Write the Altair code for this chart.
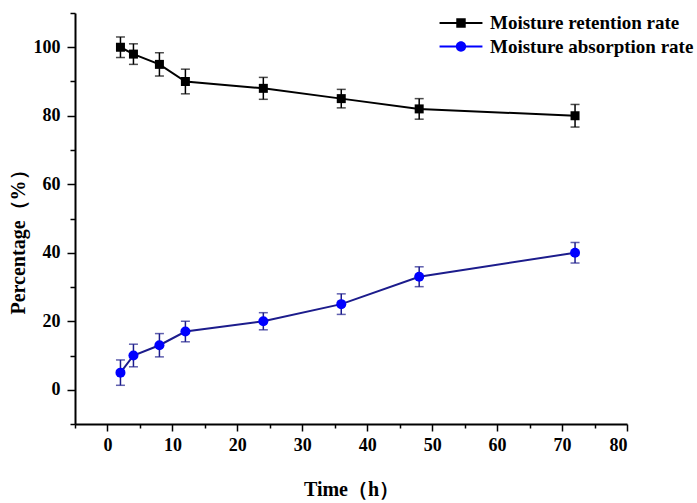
import altair as alt
import pandas as pd

# ---- data ----
time_h = [2, 4, 8, 12, 24, 36, 48, 72]
retention = [100, 98, 95, 90, 88, 85, 82, 80]
retention_err = [3.0, 3.0, 3.4, 3.6, 3.2, 2.7, 3.0, 3.3]
absorption = [5, 10, 13, 17, 20, 25, 33, 40]
absorption_err = [3.7, 3.3, 3.4, 3.0, 2.5, 3.0, 2.9, 3.0]
series_names = ["Moisture retention rate", "Moisture absorption rate"]
x_major_ticks = [0, 10, 20, 30, 40, 50, 60, 70, 80]
x_minor_ticks = [-5, 5, 15, 25, 35, 45, 55, 65, 75]
y_major_ticks = [0, 20, 40, 60, 80, 100]
y_minor_ticks = [-10, 10, 30, 50, 70, 90, 110]

rows = []
for t, v, e in zip(time_h, retention, retention_err):
    rows.append({"time": t, "value": v, "err": e, "series": series_names[0]})
for t, v, e in zip(time_h, absorption, absorption_err):
    rows.append({"time": t, "value": v, "err": e, "series": series_names[1]})
df = pd.DataFrame(rows)
df["lo"] = df["value"] - df["err"]
df["hi"] = df["value"] + df["err"]

FONT = "Liberation Serif"
BLACK = "#000000"
NAVY = "#1c1c8c"
BLUE = "#0000ff"

xs = alt.Scale(domain=[-5, 80], nice=False, zero=False)
ys = alt.Scale(domain=[-10, 110], nice=False, zero=False)

base = alt.Chart(df)


def X(field):
    return alt.X(field, scale=xs, axis=None)


def Y(field):
    return alt.Y(field, scale=ys, axis=None)


# main axes (major ticks + labels + titles)
main_axes = base.mark_point(opacity=0).encode(
    x=alt.X("time:Q", scale=xs, title="Time（h）",
            axis=alt.Axis(values=x_major_ticks, tickSize=7, titlePadding=25, labelPadding=5,
                          orient="bottom")),
    y=alt.Y("value:Q", scale=ys, title="Percentage（%）",
            axis=alt.Axis(values=y_major_ticks, tickSize=8, titlePadding=5, labelPadding=7,
                          orient="left", titleY=224)),
)
# minor ticks
minor_axes = base.mark_point(opacity=0).encode(
    x=alt.X("time:Q", scale=xs, title=None,
            axis=alt.Axis(values=x_minor_ticks, tickSize=4, labels=False, domain=False,
                          orient="bottom")),
    y=alt.Y("value:Q", scale=ys, title=None,
            axis=alt.Axis(values=y_minor_ticks, tickSize=5, labels=False, domain=False,
                          orient="left")),
)


def series_layers(name, line_color, marker_color, shape, size):
    s = base.transform_filter(alt.datum.series == name)
    line = s.mark_line(strokeWidth=2, color=line_color).encode(x=X("time:Q"), y=Y("value:Q"))
    bar = s.mark_rule(strokeWidth=1.5, color=line_color).encode(
        x=X("time:Q"), y=Y("lo:Q"), y2="hi:Q")
    cap_lo = s.mark_tick(orient="horizontal", size=9, thickness=1.5, color=line_color).encode(
        x=X("time:Q"), y=Y("lo:Q"))
    cap_hi = s.mark_tick(orient="horizontal", size=9, thickness=1.5, color=line_color).encode(
        x=X("time:Q"), y=Y("hi:Q"))
    pts = s.mark_point(shape=shape, filled=True, size=size, opacity=1, color=marker_color).encode(
        x=X("time:Q"), y=Y("value:Q"))
    return [line, bar, cap_lo, cap_hi], pts


ret_lines, ret_pts = series_layers(series_names[0], BLACK, BLACK, "square", 81)
abs_lines, abs_pts = series_layers(series_names[1], NAVY, BLUE, "circle", 100)

# legend symbols: a line with a marker in the middle (unit = 11 px)
sym_square = ("M-1.95,-0.09H-0.4V0.09H-1.95Z M0.4,-0.09H1.95V0.09H0.4Z "
              "M-0.43,-0.43H0.43V0.43H-0.43Z")
sym_circle = ("M-1.95,-0.09H-0.4V0.09H-1.95Z M0.4,-0.09H1.95V0.09H0.4Z "
              "M0.47,0A0.47,0.47,0,1,1,-0.47,0A0.47,0.47,0,1,1,0.47,0Z")

leg = dict(title=None, orient="none", legendX=375, legendY=-1,
           symbolSize=484, symbolOpacity=1, symbolStrokeWidth=0,
           labelFont=FONT, labelFontWeight="bold", labelFontSize=19,
           labelColor=BLACK, labelOffset=18, rowPadding=2.5, padding=0,
           labelLimit=400)

# tiny legend-carrier points, hidden beneath the real markers
legend_layer = base.mark_point(filled=True, size=2).encode(
    x=X("time:Q"), y=Y("value:Q"),
    color=alt.Color("series:N", scale=alt.Scale(domain=series_names, range=[BLACK, BLUE]),
                    legend=alt.Legend(**leg)),
    shape=alt.Shape("series:N", scale=alt.Scale(domain=series_names, range=[sym_square, sym_circle]),
                    legend=alt.Legend(**leg)),
)

chart = alt.layer(
    main_axes, minor_axes, *ret_lines, *abs_lines, legend_layer, ret_pts, abs_pts
).resolve_axis(
    x="independent", y="independent"
).properties(
    width=552, height=411,
    autosize=alt.AutoSizeParams(type="none"),
    padding={"left": 75, "top": 13, "right": 70, "bottom": 79},
    background="white",
).configure_view(stroke=None).configure_axis(
    grid=False,
    domainColor=BLACK, domainWidth=2,
    tickColor=BLACK, tickWidth=1.5,
    labelFont=FONT, labelFontWeight="bold", labelFontSize=18, labelColor=BLACK,
    titleFont=FONT, titleFontWeight="bold", titleFontSize=20, titleColor=BLACK,
)

chart.save("out.html", embed_options={"renderer": "svg", "actions": False})
